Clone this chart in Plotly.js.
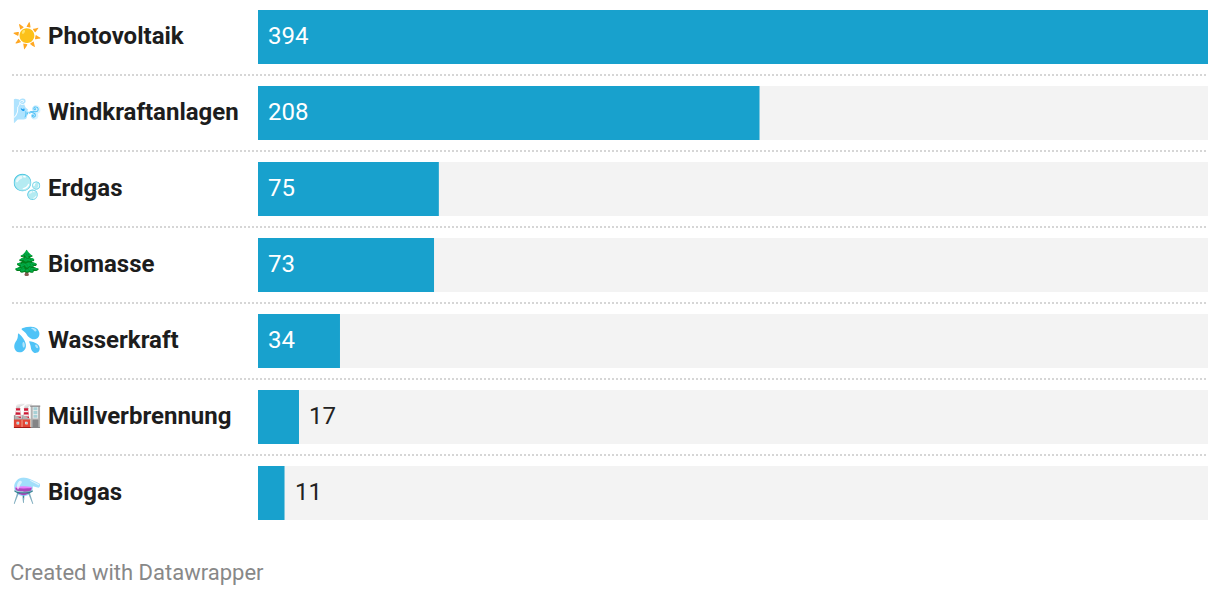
<!DOCTYPE html>
<html><head><meta charset="utf-8">
<script src="https://cdn.plot.ly/plotly-3.0.1.min.js"></script>
<style>html,body{margin:0;padding:0;background:#fff}</style></head>
<body><div id="chart" style="width:1220px;height:596px"></div>
<script>
const categories=["Photovoltaik","Windkraftanlagen","Erdgas","Biomasse","Wasserkraft","Müllverbrennung","Biogas"];
const icons=["☀️","🌬️","🫧","🌲","💦","🏭","⚗️"];
const values=[394,208,75,73,34,17,11];
const maxValue=394;
const footer="Created with Datawrapper";
const W=1220,H=596,L=258,R=1208,pitch=76,plotH=532;
const font="Roboto, sans-serif";
const idx=categories.map((_,i)=>i);
const traces=[
 {type:"bar",orientation:"h",y:idx,x:values.map(()=>maxValue),marker:{color:"#f3f3f3"},width:54/76,hoverinfo:"skip",showlegend:false},
 {type:"bar",orientation:"h",y:idx,x:values,marker:{color:"#18a1cd"},width:54/76,hoverinfo:"skip",showlegend:false}
];
const ann=[];
const toPaper=px=>(px-L)/(R-L);
const base={showarrow:false,xanchor:"left",yanchor:"middle",borderpad:0,borderwidth:0};
categories.forEach((c,i)=>{
 ann.push({...base,xref:"paper",yref:"y",x:toPaper(48),y:i,yshift:1,text:"<b>"+c+"</b>",font:{family:font,size:24,color:"#1d1d1d"}});
 ann.push({...base,xref:"paper",yref:"y",xanchor:"center",x:toPaper(27),y:i,yshift:2,text:icons[i],font:{family:"'Noto Color Emoji', "+font,size:24,color:"#1d1d1d"}});
 const inside=values[i]>=30;
 ann.push({...base,xref:"x",yref:"y",x:inside?0:values[i],xshift:10,y:i,yshift:1,text:String(values[i]),font:{family:font,size:24,color:inside?"#ffffff":"#222222"}});
});
ann.push({...base,xref:"paper",yref:"paper",x:toPaper(10),y:(plotH-572)/plotH,text:footer,font:{family:font,size:22,color:"#888888"}});
const shapes=idx.slice(0,-1).map(i=>({type:"line",xref:"paper",yref:"y",x0:toPaper(12),x1:1,y0:i+0.5,y1:i+0.5,line:{color:"#d6d6d6",width:2,dash:"2px,2px"}}));
Plotly.newPlot("chart",traces,{
 width:W,height:H,margin:{l:L,r:W-R,t:0,b:H-plotH,pad:0},barmode:"overlay",
 paper_bgcolor:"#fff",plot_bgcolor:"#fff",showlegend:false,
 xaxis:{range:[0,maxValue],visible:false,fixedrange:true},
 yaxis:{range:[(plotH-37)/pitch,-37/pitch],visible:false,fixedrange:true},
 annotations:ann,shapes:shapes
},{displayModeBar:false,staticPlot:true});
</script></body></html>
